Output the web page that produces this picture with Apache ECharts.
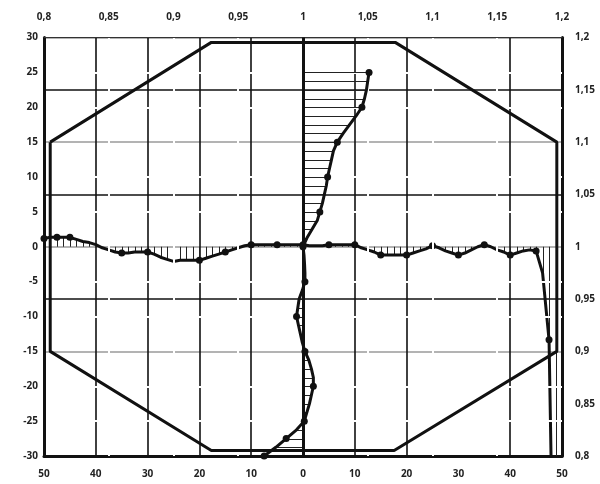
<!DOCTYPE html>
<html><head><meta charset="utf-8">
<script src="https://cdn.jsdelivr.net/npm/echarts@6/dist/echarts.min.js"></script>
<style>html,body{margin:0;padding:0;background:#fff}#c{width:600px;height:484px}</style>
</head><body><div id="c"></div>
<script>
// ---- data ----
const bottomTicks = [-50, -40, -30, -20, -10, 0, 10, 20, 30, 40, 50];
const leftTicks = [-30, -25, -20, -15, -10, -5, 0, 5, 10, 15, 20, 25, 30];
const ratioTicks = [0.8, 0.85, 0.9, 0.95, 1, 1.05, 1.1, 1.15, 1.2];

// horizontal profile (x on bottom axis, ratio on right axis)
const hX = [-50,-48.75,-47.5,-46.25,-45,-43.75,-42.5,-41.25,-40,-38.75,-37.5,-36.25,-35,-33.75,-32.5,-31.25,-30,-28.75,-27.5,-26.25,-25,-23.75,-22.5,-21.25,-20,-18.75,-17.5,-16.25,-15,-13.75,-12.5,-11.25,-10,-8.75,-7.5,-6.25,-5,-3.75,-2.5,-1.25,0,1.25,2.5,3.75,5,6.25,7.5,8.75,10,11.25,12.5,13.75,15,16.25,17.5,18.75,20,21.25,22.5,23.75,25,26.25,27.5,28.75,30,31.25,32.5,33.75,35,36.25,37.5,38.75,40,41.25,42.5,43.75,45,46.25,47.5,48.75,50];
const hVal = [1.008,1.009,1.009,1.009,1.009,1.007,1.005,1.004,1.002,0.999,0.997,0.995,0.994,0.994,0.995,0.995,0.995,0.993,0.990,0.988,0.986,0.987,0.987,0.987,0.987,0.989,0.991,0.993,0.995,0.997,0.999,1.001,1.002,1.002,1.002,1.002,1.002,1.002,1.002,1.002,1.002,1.001,1.001,1.001,1.002,1.002,1.002,1.002,1.002,0.999,0.997,0.995,0.992,0.992,0.992,0.992,0.992,0.994,0.996,0.998,1.001,0.999,0.996,0.994,0.992,0.994,0.997,1.000,1.002,1.000,0.997,0.995,0.992,0.994,0.996,0.997,0.996,0.975,0.911,0.55,0.40];
const hMarkers = [-50,-47.5,-45,-35,-30,-20,-15,-10,-5,0,5,10,15,20,25,30,35,40,45,47.5];

// vertical profile (ratio on top axis, y on left axis)
const vY = [-30,-28.75,-27.5,-26.25,-25,-23.75,-22.5,-21.25,-20,-18.75,-17.5,-16.25,-15,-13.75,-12.5,-11.25,-10,-8.75,-7.5,-6.25,-5,-3.75,-2.5,-1.25,0,1.25,2.5,3.75,5,6.25,7.5,8.75,10,11.25,12.5,13.75,15,16.25,17.5,18.75,20,21.25,22.5,23.75,25];
const vVal = [0.970,0.979,0.987,0.995,1.001,1.003,1.005,1.0065,1.008,1.008,1.0065,1.0045,1.0015,0.9995,0.998,0.9965,0.995,0.996,0.997,0.9995,1.0015,1.0015,1.0012,1.0008,1.0,1.003,1.007,1.011,1.013,1.015,1.0165,1.018,1.019,1.0205,1.022,1.0235,1.0265,1.031,1.036,1.041,1.0455,1.0475,1.049,1.050,1.051];
const vMarkers = [-30,-27.5,-25,-20,-15,-10,-5,0,5,10,15,20,25];

// octagon outline (bottom axis x, left axis y)
const octX = [-48.8,-17.7,17.8,49,49,17.6,-17.7,-48.8,-48.8];
const octY = [15,29.3,29.3,15,-15,-29.2,-29.2,-15,15];

// ---- chart ----
const fmtRatio = v => String(Math.round(v * 100) / 100).replace('.', ',');
const lab = {fontFamily: 'Open Sans', fontWeight: 'bold', fontSize: 10, color: '#222'};
const K = '#111', G = '#9a9a9a', T = 'rgba(0,0,0,0)', W = '#ffffff';

const chart = echarts.init(document.getElementById('c'), null, {renderer: 'canvas'});
chart.setOption({
  animation: false,
  grid: {left: 44, right: 38, top: 37.5, bottom: 28, containLabel: false},
  xAxis: [
    {type: 'value', position: 'bottom', min: -50, max: 50, interval: 10, z: 0,
     axisLine: {show: true, onZero: false, lineStyle: {color: K, width: 3}},
     axisTick: {show: false},
     axisLabel: Object.assign({margin: 13, formatter: v => String(Math.abs(v))}, lab),
     splitLine: {show: true, lineStyle: {width: 1.6, color: bottomTicks.map(v => (v === -50 || v === 50 || v === 30) ? T : K)}}},
    {type: 'value', position: 'top', min: 0.8, max: 1.2, interval: 0.05, z: 2,
     axisLine: {show: true, onZero: false, lineStyle: {color: '#333', width: 1}},
     axisTick: {show: false},
     axisLabel: Object.assign({margin: 15, formatter: fmtRatio}, lab),
     splitLine: {show: true, lineStyle: {width: 2, color: ratioTicks.map(v => (v === 0.8 || v === 1 || v === 1.2) ? T : W)}}}
  ],
  yAxis: [
    {type: 'value', position: 'left', min: -30, max: 30, interval: 5, z: 2,
     axisLine: {show: true, onZero: false, lineStyle: {color: K, width: 3}},
     axisTick: {show: false},
     axisLabel: Object.assign({margin: 6, formatter: v => String(v)}, lab),
     splitLine: {show: true, lineStyle: {width: 2, color: leftTicks.map(v => (v % 15 === 0) ? T : W)}}},
    {type: 'value', position: 'right', min: 0.8, max: 1.2, interval: 0.05, z: 0,
     axisLine: {show: true, onZero: false, lineStyle: {color: K, width: 3}},
     axisTick: {show: false},
     axisLabel: Object.assign({margin: 13, formatter: fmtRatio}, lab),
     splitLine: {show: true, lineStyle: {width: 1.6, color: ratioTicks.map(v => {
       const r = Math.round(v * 100);
       if (r === 80) return T;
       if (r === 85) return T;
       return (r % 10 === 0) ? G : K;
     })}}}
  ],
  series: [
    // horizontal profile hatch
    {type: 'custom', xAxisIndex: 0, yAxisIndex: 1, z: 1, clip: true, silent: true,
     data: hX.map((x, i) => [x, hVal[i]]),
     renderItem: (params, api) => {
       const p0 = api.coord([api.value(0), 1]);
       const p1 = api.coord([api.value(0), api.value(1)]);
       const x = Math.round(p0[0]) + 0.5;
       return {type: 'line', shape: {x1: x, y1: p0[1], x2: x, y2: p1[1]}, style: {stroke: '#222', lineWidth: 1}};
     }},
    // horizontal profile line
    {type: 'line', xAxisIndex: 0, yAxisIndex: 1, z: 1, clip: true, silent: true,
     data: hX.map((x, i) => [x, hVal[i]]),
     symbol: 'circle', showAllSymbol: true,
     symbolSize: (val) => hMarkers.indexOf(val[0]) >= 0 ? 7 : 0,
     itemStyle: {color: K},
     lineStyle: {color: K, width: 3}},
    // vertical profile hatch
    {type: 'custom', xAxisIndex: 1, yAxisIndex: 0, z: 3, clip: true, silent: true,
     data: vY.map((y, i) => [vVal[i], y]),
     renderItem: (params, api) => {
       const p0 = api.coord([1, api.value(1)]);
       const p1 = api.coord([api.value(0), api.value(1)]);
       const y = Math.round(p0[1]) + 0.5;
       return {type: 'line', shape: {x1: p0[0], y1: y, x2: p1[0], y2: y}, style: {stroke: '#222', lineWidth: 1}};
     }},
    // vertical profile line
    {type: 'line', xAxisIndex: 1, yAxisIndex: 0, z: 4, clip: true, silent: true,
     data: vY.map((y, i) => [vVal[i], y]),
     symbol: 'circle', showAllSymbol: true,
     symbolSize: (val) => vMarkers.indexOf(val[1]) >= 0 ? 7 : 0,
     itemStyle: {color: K},
     lineStyle: {color: K, width: 3}},
    // octagon outline + centre line
    {type: 'line', xAxisIndex: 0, yAxisIndex: 0, z: 4, silent: true,
     data: octX.map((x, i) => [x, octY[i]]),
     symbol: 'none',
     lineStyle: {color: K, width: 3},
     markLine: {silent: true, symbol: 'none', label: {show: false},
       lineStyle: {color: K, width: 3, type: 'solid'},
       data: [{xAxis: 0}]}}
  ]
});
</script>
</body></html>
